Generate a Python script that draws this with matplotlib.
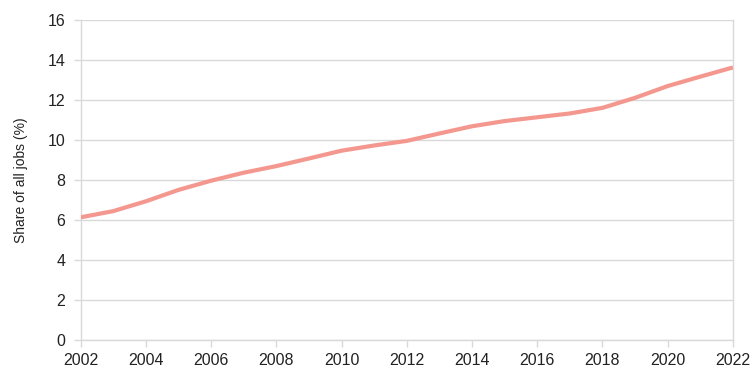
import matplotlib.pyplot as plt

plt.rcParams['font.family'] = ['Liberation Sans', 'DejaVu Sans']

# Data
years = list(range(2002, 2023))
share = [6.13, 6.44, 6.93, 7.50, 7.96, 8.36, 8.69, 9.07, 9.46, 9.72, 9.95,
         10.32, 10.68, 10.94, 11.13, 11.32, 11.60, 12.10, 12.69, 13.16, 13.62]
x_ticks = list(range(2002, 2023, 2))
y_ticks = list(range(0, 17, 2))

fig = plt.figure(figsize=(7.54, 3.81), dpi=100)
ax = fig.add_axes([0.1069, 0.1076, 0.972 - 0.1069, 0.948 - 0.1076])

ax.plot(years, share, color="#F4988F", linewidth=3, solid_joinstyle="round",
        solid_capstyle="butt", zorder=3)

ax.set_xlim(2002, 2022)
ax.set_ylim(0, 16)
ax.set_xticks(x_ticks)
ax.set_yticks(y_ticks)
ax.grid(axis="y", color="#d9d9d9", linewidth=1)
ax.set_axisbelow(True)

for side in ["top"]:
    ax.spines[side].set_visible(False)
for side in ["left", "right", "bottom"]:
    ax.spines[side].set_color("#d9d9d9")
    ax.spines[side].set_linewidth(1)

ax.tick_params(axis="both", colors="#d9d9d9", labelcolor="#222222",
               length=5, width=1, labelsize=11.5)
ax.tick_params(axis="y", pad=6)
ax.tick_params(axis="x", pad=4)
ax.set_ylabel("Share of all jobs (%)", fontsize=10, color="#222222", labelpad=14)

plt.savefig("out.png", dpi=100)
